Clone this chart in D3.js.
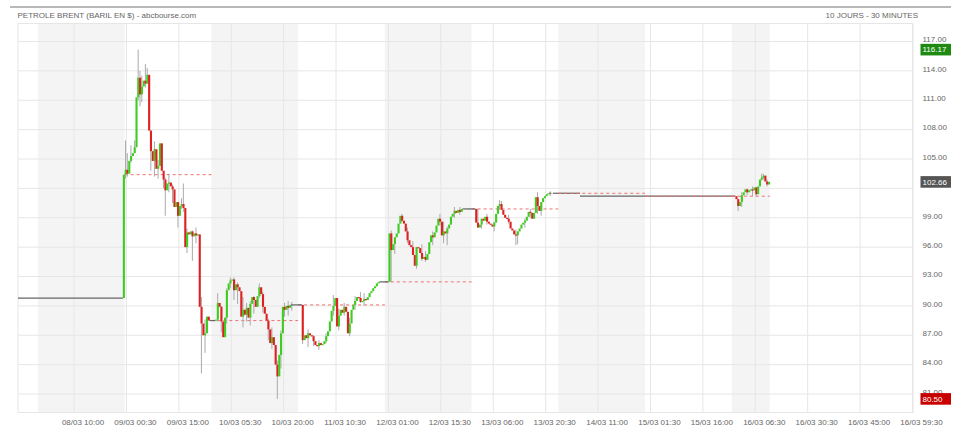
<!DOCTYPE html>
<html>
<head>
<meta charset="utf-8">
<script src="https://cdn.jsdelivr.net/npm/d3@7"></script>
<style>
  body { margin: 0; background: #fff; }
  svg text { font-family: "Liberation Sans", Arial, sans-serif; }
</style>
</head>
<body>
<svg id="chart" width="965" height="442"></svg>
<script>
// ---- DATA ---- //
// bar index = number of 30 minute bars since 08/03 00:00
const xTickBars = [20, 49, 78, 107, 136, 165, 194, 223, 252, 281, 310, 339, 368, 397, 426, 455, 484];
const xTickLabels = ["08/03 10:00", "09/03 00:30", "09/03 15:00", "10/03 05:30", "10/03 20:00",
  "11/03 10:30", "12/03 01:00", "12/03 15:30", "13/03 06:00", "13/03 20:30", "14/03 11:00",
  "15/03 01:30", "15/03 16:00", "16/03 06:30", "16/03 30:30", "16/03 45:00", "16/03 59:30"];
const yTicks = [81, 84, 87, 90, 93, 96, 99, 102, 105, 108, 111, 114, 117];

// shaded days (every other day)
const shadedDays = [[0, 48], [96, 144], [192, 240], [288, 336], [384, 405]];

// opening price of each day (red dashed reference)
const dayOpens = [
  {from: 48, to: 96, price: 103.4},
  {from: 96, to: 144, price: 88.5},
  {from: 144, to: 192, price: 90.1},
  {from: 192, to: 240, price: 92.45},
  {from: 240, to: 288, price: 99.9},
  {from: 288, to: 336, price: 101.5},
  {from: 336, to: 384, price: 101.2},
  {from: 384, to: 405, price: 101.2}
];

// no trading: flat price
const flatSegments = [
  {from: -11, to: 47, price: 90.8},
  {from: 285, to: 300, price: 101.5},
  {from: 300, to: 386, price: 101.2}
];

// closes of first session, starting at bar 47 (open = 90.8)
const sessionAStart = 47, sessionAOpen = 90.8;
const closesA = [
  103.4, 103.9, 103.5, 104.8, 105.3, 105.6, 106.2, 111.3, 113.3, 111.6,
  112.4, 113.0, 112.7, 113.6, 107.9, 105.8, 104.8, 106.0, 104.0, 104.3,
  106.6, 103.8, 102.9, 101.8, 102.5, 102.6, 102.2, 101.9, 100.1, 100.6,
  99.2, 100.2, 100.4, 100.0, 96.0, 97.5, 97.3, 97.6, 97.1, 97.4,
  97.2, 97.3, 89.9, 88.2, 87.0, 87.2, 88.9, 88.5, 88.5, 88.5,
  88.5, 88.6, 90.3, 89.9, 88.4, 86.8, 88.8, 91.6, 92.3, 92.6,
  92.7, 91.6, 92.2, 91.9, 91.5, 88.9, 89.6, 89.1, 89.8, 88.8,
  90.2, 90.9, 90.6, 89.9, 91.0, 91.9, 91.2, 89.9, 89.2, 88.5,
  87.6, 86.2, 86.8, 86.0, 84.0, 82.8, 85.0, 87.2, 89.9, 89.6,
  90.0, 89.8, 90.1, 90.1, 90.1, 90.1, 90.1, 90.1, 90.1, 86.5,
  87.0, 86.7, 87.2, 87.0, 86.9, 86.4, 86.0, 85.9, 86.2, 86.0,
  86.1, 86.4, 86.9, 87.4, 88.4, 89.5, 90.0, 90.8, 87.9, 89.0,
  89.6, 89.3, 89.9, 89.4, 87.2, 88.2, 89.6, 90.1, 90.5, 90.9,
  90.8, 90.4, 90.5, 90.7, 90.6, 90.9, 91.3, 91.5, 91.8, 92.0,
  92.3, 92.45, 92.45, 92.45, 92.45, 92.45, 92.45, 97.4, 95.7, 96.3,
  97.0, 97.4, 98.4, 99.2, 98.7, 98.4, 97.6, 96.7, 96.2, 96.0,
  95.2, 94.1, 96.0, 95.9, 95.4, 94.8, 95.0, 94.7, 95.3, 96.5,
  97.2, 97.0, 97.5, 98.2, 98.9, 98.6, 97.2, 97.6, 97.4, 97.9,
  98.3, 99.1, 99.4, 99.7, 99.5, 99.8, 99.6, 99.9, 99.9, 99.9,
  99.9, 99.9, 99.9, 99.9, 99.9, 98.5, 98.0, 98.3, 98.9, 98.7,
  99.1, 98.6, 98.4, 98.3, 98.1, 98.5, 99.4, 100.2, 100.4, 99.8,
  99.3, 99.0, 98.9, 98.6, 97.9, 97.7, 97.3, 97.2, 97.6, 97.9,
  98.3, 98.5, 98.7, 99.1, 99.6, 99.5, 98.9, 99.5, 101.1, 100.2,
  99.7, 100.6, 101.0, 101.2, 101.4, 101.5, 101.5
];

// closes of last session (16/03), starting at bar 386 (open = 101.2)
const sessionBStart = 386, sessionBOpen = 101.2;
const closesB = [100.9, 100.2, 100.6, 101.3, 101.6, 101.9, 101.6, 101.8, 101.9, 101.8,
  102.1, 101.4, 102.2, 102.9, 103.1, 103.3, 102.7, 102.4, 102.66];

// visible wicks: [bar, high, low]
const wicks = [
  [48, 106.9, 103.0], [49, 105.6, 103.2], [51, 106.4, 104.6], [53, 106.9, 105.8],
  [55, 116.17, 111.0], [56, 114.0, 110.4], [57, 113.5, 110.8], [59, 114.7, 112.3],
  [60, 114.3, 113.0], [62, 106.4, 103.8], [64, 106.8, 103.2], [66, 104.9, 103.0],
  [69, 103.6, 102.0], [70, 103.1, 99.2], [72, 103.5, 101.6], [74, 102.4, 100.5],
  [77, 100.3, 98.0], [79, 101.0, 99.9], [80, 102.5, 99.6], [82, 97.9, 95.4],
  [85, 97.7, 94.6], [87, 98.0, 96.4], [90, 90.9, 83.1], [92, 88.6, 85.2],
  [99, 91.3, 88.4], [101, 90.0, 87.3], [104, 91.8, 88.2], [106, 92.9, 91.8],
  [108, 92.9, 90.6], [110, 92.4, 90.2], [113, 90.9, 87.8], [115, 90.3, 88.4],
  [117, 90.5, 88.0], [119, 91.0, 89.2], [122, 92.3, 90.8], [124, 91.4, 89.3],
  [127, 88.7, 86.5], [129, 87.8, 85.6], [132, 84.4, 80.5], [134, 87.5, 83.6],
  [136, 90.3, 88.9], [138, 90.5, 89.0], [140, 90.4, 89.5], [146, 90.1, 86.1],
  [149, 87.6, 85.8], [152, 87.0, 85.9], [155, 86.5, 85.5], [159, 87.2, 86.2],
  [163, 91.1, 89.0], [166, 89.7, 87.5], [169, 90.3, 89.0], [172, 88.8, 86.9],
  [175, 91.0, 89.6], [178, 91.4, 90.3], [180, 91.3, 90.0], [195, 97.7, 92.4],
  [197, 97.0, 95.3], [201, 99.4, 98.6], [204, 98.0, 96.4], [207, 96.6, 95.2],
  [209, 94.8, 93.8], [212, 96.3, 94.6], [214, 95.6, 94.5], [218, 97.6, 96.2],
  [222, 99.4, 98.2], [224, 98.6, 96.4], [226, 98.1, 96.2], [230, 100.1, 99.0],
  [233, 100.1, 99.3], [243, 99.9, 98.1], [245, 98.7, 97.9], [248, 99.4, 98.3],
  [252, 98.6, 97.6], [255, 100.8, 99.8], [256, 100.7, 99.9], [260, 99.3, 98.4],
  [264, 97.8, 96.2], [265, 97.5, 96.3], [269, 98.9, 98.0], [272, 99.9, 99.0],
  [276, 101.6, 99.4], [278, 100.6, 99.2], [283, 101.7, 101.2],
  [387, 100.9, 99.7], [389, 101.6, 100.1], [392, 102.0, 101.3], [395, 102.2, 101.2],
  [397, 102.1, 101.2], [400, 103.5, 102.8], [401, 103.5, 102.9], [403, 102.9, 102.2]
];

const lastPrice = 102.66, highPrice = 116.17, lowPrice = 80.50;

// ---- THE CHART ---- //
const plot = {left: 18, right: 913, top: 23.5, bottom: 412.5};

const svg = d3.select("#chart");

const xScale = d3.scaleLinear()
  .domain([-11, 484])
  .range([plot.left, 912.5]);
const yScale = d3.scaleLinear()
  .domain([81, 117])
  .range([394, 41.5]);
const barW = xScale(1) - xScale(0);

// build candles, open = previous close
function buildSession(start, open, closes) {
  return closes.map((c, k) => {
    const o = k == 0 ? open : closes[k - 1];
    return {i: start + k, o: o, c: c, h: Math.max(o, c), l: Math.min(o, c)};
  });
}
const candles = buildSession(sessionAStart, sessionAOpen, closesA)
  .concat(buildSession(sessionBStart, sessionBOpen, closesB));
const byBar = new Map(candles.map(d => [d.i, d]));
wicks.forEach(w => {
  const d = byBar.get(w[0]);
  if (d) { d.h = Math.max(d.h, w[1]); d.l = Math.min(d.l, w[2]); }
});

// top border and titles
svg.append("line")
  .attr("x1", 10).attr("x2", 951).attr("y1", 7).attr("y2", 7)
  .style("stroke", "#a0a0a0").attr("stroke-width", 1.5);
svg.append("text")
  .attr("x", 17.5).attr("y", 18.3)
  .attr("font-size", 8).attr("fill", "#666")
  .text("PETROLE BRENT (BARIL EN $) - abcbourse.com");
svg.append("text")
  .attr("x", 918).attr("y", 18.3)
  .attr("text-anchor", "end")
  .attr("font-size", 8).attr("fill", "#666")
  .text("10 JOURS - 30 MINUTES");

// shaded days
svg.selectAll("rect.band")
  .data(shadedDays)
  .enter().append("rect")
    .attr("class", "band")
    .attr("x", d => xScale(d[0]))
    .attr("width", d => xScale(d[1]) - xScale(d[0]))
    .attr("y", plot.top)
    .attr("height", plot.bottom - plot.top)
    .style("fill", "#f4f4f4");

// grid
const grid = svg.append("g").style("stroke", "#e6e6e6").attr("stroke-width", 1);
grid.selectAll("line.h")
  .data(yTicks)
  .enter().append("line")
    .attr("x1", plot.left).attr("x2", plot.right)
    .attr("y1", d => yScale(d)).attr("y2", d => yScale(d));
grid.selectAll("line.v")
  .data(xTickBars)
  .enter().append("line")
    .attr("x1", d => xScale(d)).attr("x2", d => xScale(d))
    .attr("y1", plot.top).attr("y2", plot.bottom);
grid.append("rect")
  .attr("x", plot.left).attr("y", plot.top)
  .attr("width", plot.right - plot.left).attr("height", plot.bottom - plot.top)
  .style("fill", "none");

// flat segments
svg.selectAll("line.flat")
  .data(flatSegments)
  .enter().append("line")
    .attr("x1", d => xScale(d.from)).attr("x2", d => xScale(d.to))
    .attr("y1", d => yScale(d.price)).attr("y2", d => yScale(d.price))
    .style("stroke", "#666").attr("stroke-width", 1.2);

// daily open (dashed)
svg.selectAll("line.open")
  .data(dayOpens)
  .enter().append("line")
    .attr("x1", d => xScale(d.from)).attr("x2", d => xScale(d.to))
    .attr("y1", d => yScale(d.price)).attr("y2", d => yScale(d.price))
    .style("stroke", "#f07070").attr("stroke-width", 1)
    .style("stroke-dasharray", "3, 3");

// wicks
svg.selectAll("line.wick")
  .data(candles.filter(d => d.h > Math.max(d.o, d.c) || d.l < Math.min(d.o, d.c)))
  .enter().append("line")
    .attr("x1", d => xScale(d.i) + barW / 2).attr("x2", d => xScale(d.i) + barW / 2)
    .attr("y1", d => yScale(d.h)).attr("y2", d => yScale(d.l))
    .style("stroke", "#aaa").attr("stroke-width", 1);

// bodies
svg.selectAll("rect.body")
  .data(candles)
  .enter().append("rect")
    .attr("x", d => xScale(d.i))
    .attr("width", barW + 0.3)
    .attr("y", d => yScale(Math.max(d.o, d.c)) - (d.o == d.c ? 0.6 : 0))
    .attr("height", d => Math.max(1.2, Math.abs(yScale(d.o) - yScale(d.c))))
    .style("fill", d => d.c > d.o ? "#3fcc22" : (d.c < d.o ? "#dd2020" : "#666"));

// price boxes
const boxes = [
  {v: highPrice, color: "#1f8a12"},
  {v: lastPrice, color: "#555"},
  {v: lowPrice, color: "#c80000"}
];

// y axis labels (the one hidden behind the last price box is left out)
svg.selectAll("text.ytick")
  .data(yTicks.filter(t => !boxes.some(b => Math.abs(yScale(t) - 2 - yScale(b.v)) < 6)))
  .enter().append("text")
    .attr("x", 922.5)
    .attr("y", d => yScale(d) - 2)
    .attr("dy", "0.35em")
    .attr("font-size", 8).attr("fill", "#666")
    .text(d => d.toFixed(2));

// x axis labels
svg.selectAll("text.xtick")
  .data(xTickBars)
  .enter().append("text")
    .attr("x", d => xScale(d) + 9)
    .attr("y", 424.5)
    .attr("text-anchor", "middle")
    .attr("font-size", 8).attr("fill", "#666")
    .text((d, k) => xTickLabels[k]);

const box = svg.selectAll("g.box")
  .data(boxes)
  .enter().append("g")
    .attr("transform", d => "translate(920.5," + (yScale(d.v) - 5.8) + ")");
box.append("rect")
  .attr("width", 30.5).attr("height", 11.6)
  .style("fill", d => d.color);
box.append("text")
  .attr("x", 2).attr("y", 5.8).attr("dy", "0.35em")
  .attr("font-size", 8).attr("fill", "#fff")
  .text(d => d.v.toFixed(2));
</script>
</body>
</html>
